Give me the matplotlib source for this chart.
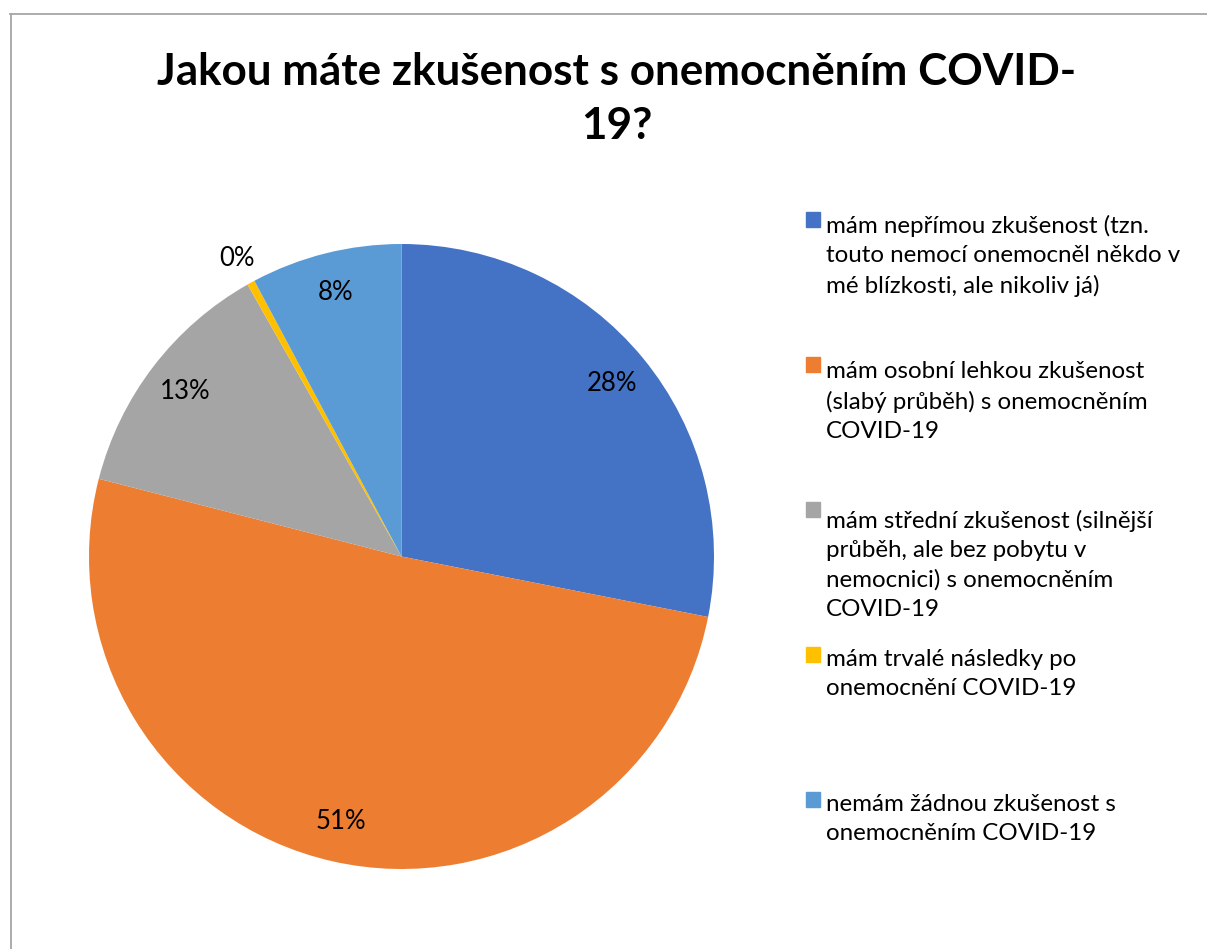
"""Koláčový graf: zkušenost s onemocněním COVID-19 (rekonstrukce z Excelu)."""
import matplotlib

matplotlib.use("Agg")
import matplotlib.pyplot as plt
import numpy as np
from matplotlib.lines import Line2D
from matplotlib.patches import Rectangle

plt.rcParams["font.family"] = ["Lato", "DejaVu Sans"]

TITLE = "Jakou máte zkušenost s onemocněním COVID-\n19?"

CATEGORIES = [
    "mám nepřímou zkušenost (tzn.\ntouto nemocí onemocněl někdo v\nmé blízkosti, ale nikoliv já)",
    "mám osobní lehkou zkušenost\n(slabý průběh) s onemocněním\nCOVID-19",
    "mám střední zkušenost (silnější\nprůběh, ale bez pobytu v\nnemocnici) s onemocněním\nCOVID-19",
    "mám trvalé následky po\nonemocnění COVID-19",
    "nemám žádnou zkušenost s\nonemocněním COVID-19",
]
SHARES = [28.1, 50.9, 12.8, 0.4, 7.8]
COLORS = ["#4472C4", "#ED7D31", "#A5A5A5", "#FFC000", "#5B9BD5"]

W, H = 1207, 949


def fx(px):
    return px / W


def fy(py):
    return 1 - py / H


fig = plt.figure(figsize=(W / 100, H / 100), dpi=100)

# rámeček oblasti grafu (jen levá a horní hrana jsou vidět)
border = dict(color="#A6A6A6", lw=1.3, transform=fig.transFigure)
fig.add_artist(Line2D([fx(10.5), fx(10.5)], [fy(14), 0], **border))
fig.add_artist(Line2D([fx(10), 1], [fy(14), fy(14)], **border))

fig.text(fx(617), fy(99), TITLE, ha="center", va="center",
         fontsize=31.7, fontweight="bold", linespacing=1.42)

# koláč
cx, cy, r = 401.5, 556.5, 312.5
ax = fig.add_axes([fx(cx - r), fy(cy + r), (2 * r) / W, (2 * r) / H])
wedges, _ = ax.pie(SHARES, colors=COLORS, startangle=90, counterclock=False,
                   radius=1.0, wedgeprops=dict(linewidth=0))
ax.set_xlim(-1, 1)
ax.set_ylim(-1, 1)
ax.set_aspect("equal")
ax.axis("off")

for w, v in zip(wedges, SHARES):
    mid = np.deg2rad((w.theta1 + w.theta2) / 2)
    dist = 1.09 if v < 2 else 0.87
    ax.text(dist * np.cos(mid), dist * np.sin(mid), f"{round(v)}%",
            ha="center", va="center", fontsize=18.5, color="#000000")

# legenda vpravo (pevný rozestup položek jako v Excelu)
LINE_PX = 33
for i, (lab, col) in enumerate(zip(CATEGORIES, COLORS)):
    base = 227 + 145 * i
    nlines = lab.count("\n") + 1
    fig.add_artist(Rectangle((fx(806), fy(base)), 14 / W, 15 / H,
                             color=col, transform=fig.transFigure))
    fig.text(fx(826), fy(base + (nlines - 1) * LINE_PX), lab, ha="left",
             va="baseline", fontsize=17.4, linespacing=1.48, color="#000000")

fig.savefig("out.png", dpi=100)
